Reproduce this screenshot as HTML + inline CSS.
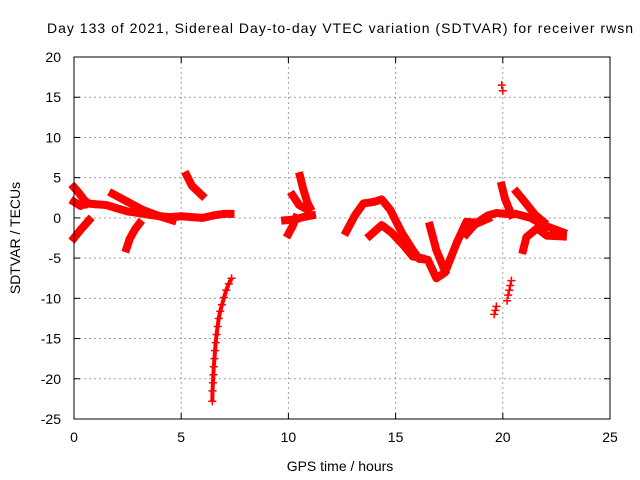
<!DOCTYPE html>
<html><head><meta charset="utf-8">
<style>
html,body{margin:0;padding:0;background:#fff;}
svg{display:block;font-family:"Liberation Sans",sans-serif;}
</style></head>
<body>
<svg id="chart" width="640" height="480" viewBox="0 0 640 480" xmlns="http://www.w3.org/2000/svg">
<rect x="0" y="0" width="640" height="480" fill="#fff"/>
<text x="47" y="33" font-size="14" fill="#000" textLength="586" lengthAdjust="spacing">Day 133 of 2021, Sidereal Day-to-day VTEC variation (SDTVAR) for receiver rwsn</text>
<g id="grid"></g>
<g id="ticks"></g>
<g id="marks"></g>
<rect x="74" y="57" width="536" height="362" fill="none" stroke="#000" stroke-width="1"/>
<text x="340" y="471" font-size="14" text-anchor="middle">GPS time / hours</text>
<text x="20" y="238" font-size="14" text-anchor="middle" transform="rotate(-90 20 238)">SDTVAR / TECUs</text>
</svg>
<script>
const xTicks = [0, 5, 10, 15, 20, 25];
const yTicks = [20, 15, 10, 5, 0, -5, -10, -15, -20, -25];
const trackA = [[0,3.8],[0.2,3.2],[0.4,2.5],[0.6,1.8]];
const trackA2 = [[0,2.0],[0.3,1.5],[0.6,1.8]];
const trackB = [[0,-2.5],[0.3,-1.5],[0.7,-0.3]];
const trackC = [[0.6,1.8],[1,1.7],[1.5,1.6],[2,1.2],[2.5,0.8],[3,0.6],[3.5,0.4],[4,0.2],[4.5,0.1],[5,0.2],[5.5,0.1],[6,0.0],[6.5,0.3],[7,0.5],[7.3,0.5]];
const trackD = [[1.8,3.0],[2.5,2.0],[3.2,1.0],[4,0.2],[4.6,-0.3]];
const trackE = [[2.45,-3.8],[2.6,-2.6],[2.85,-1.4],[3.05,-0.7]];
const trackF = [[5.25,5.3],[5.5,4.0],[5.97,2.8]];
const trackG = [[6.45,-22.8],[6.46,-21.5],[6.48,-20.5],[6.5,-19.5],[6.52,-18.5],[6.55,-17.5],[6.58,-16.5],[6.61,-15.5],[6.65,-14.5],[6.7,-13.5],[6.75,-12.5],[6.82,-11.6],[6.9,-10.8],[7.0,-9.9],[7.1,-9.0],[7.22,-8.2],[7.35,-7.5]];
const trackH = [[9.85,-0.3],[10.3,-0.2],[10.7,0.1],[11.1,0.3]];
const trackH2 = [[10.0,-2.0],[10.2,-1.0],[10.35,0.0]];
const trackH3 = [[10.54,5.2],[10.7,3.5],[10.9,1.8],[11.0,1.3]];
const trackH4 = [[10.2,2.8],[10.5,1.6],[10.9,1.0]];
const trackI = [[12.7,-1.7],[13.1,0.3],[13.5,1.8],[14,2.0],[14.35,2.3],[14.75,1.0],[15.3,-1.9],[15.8,-4.0],[16.1,-5.1],[16.5,-5.2],[16.9,-7.5],[17.3,-6.8],[17.85,-3.1],[18.3,-0.5],[18.8,-0.6],[19.3,0.3],[19.7,0.6],[20.2,0.5],[20.6,0.5],[21.3,0.0],[21.9,-0.9],[22.8,-1.8]];
const trackJ = [[13.8,-2.2],[14.35,-0.9],[14.8,-1.8],[15.4,-3.5],[15.8,-4.8],[16.2,-5.0]];
const trackK = [[16.6,-1.0],[16.9,-4.0],[17.3,-6.6]];
const trackK2 = [[18.3,-2.0],[18.7,-0.8],[19.3,-0.1]];
const trackL = [[19.95,4.0],[20.1,2.4],[20.4,0.4]];
const trackM = [[20.65,3.2],[20.9,2.4],[21.5,0.4],[21.9,-0.5]];
const trackN = [[20.95,-4.0],[21.1,-2.4],[21.6,-1.3],[22.05,-2.2],[22.8,-2.3]];
const trackO = [[19.6,-12.0],[19.65,-11.5],[19.7,-11.0]];
const trackP = [[20.2,-10.3],[20.25,-9.6],[20.3,-9.0],[20.35,-8.4],[20.4,-7.8]];
const trackQ = [[19.95,16.5],[20.0,15.8]];

const NS = "http://www.w3.org/2000/svg";
const X0 = 74, X1 = 610, Y0 = 419, Y1 = 57, XMIN = 0, XMAX = 25, YMIN = -25, YMAX = 20;
function xs(v){ return X0 + (v - XMIN) / (XMAX - XMIN) * (X1 - X0); }
function ys(v){ return Y0 - (v - YMIN) / (YMAX - YMIN) * (Y0 - Y1); }
function mk(tag, attrs, parent){ const e = document.createElementNS(NS, tag); for (const k in attrs) e.setAttribute(k, attrs[k]); parent.appendChild(e); return e; }

const grid = document.getElementById('grid');
const ticks = document.getElementById('ticks');
xTicks.forEach(t => {
  const x = xs(t);
  if (t > XMIN && t < XMAX) {
    const g = mk('line', {x1:x, y1:Y1, x2:x, y2:Y0, stroke:'#a0a0a0', 'stroke-dasharray':'2,3'}, grid);
    
    
  }
  mk('line', {x1:x, y1:Y0, x2:x, y2:Y0-6, stroke:'#000'}, ticks);
  mk('line', {x1:x, y1:Y1, x2:x, y2:Y1+6, stroke:'#000'}, ticks);
  const l = mk('text', {x:x, y:Y0+23, 'font-size':14, 'text-anchor':'middle'}, ticks);
  l.textContent = t;
  
  
});
yTicks.forEach(t => {
  const y = ys(t);
  if (t > YMIN && t < YMAX) {
    const g = mk('line', {x1:X0, y1:y, x2:X1, y2:y, stroke:'#a0a0a0', 'stroke-dasharray':'2,3'}, grid);
    
    
  }
  mk('line', {x1:X0, y1:y, x2:X0+6, y2:y, stroke:'#000'}, ticks);
  mk('line', {x1:X1, y1:y, x2:X1-6, y2:y, stroke:'#000'}, ticks);
  const l = mk('text', {x:X0-13, y:y+5, 'font-size':14, 'text-anchor':'end'}, ticks);
  l.textContent = t;
  
  
});

const marks = document.getElementById('marks');
const tracks = [trackA, trackA2, trackB, trackC, trackD, trackE, trackF, trackH, trackH2, trackH3, trackH4, trackI, trackJ, trackK, trackK2, trackL, trackM, trackN];
tracks.forEach(tr => {
  const p = mk('polyline', {points: tr.map(d => xs(d[0]) + ',' + ys(d[1])).join(' '), fill:'none', stroke:'#ff0000', 'stroke-width':8, 'stroke-linejoin':'round', 'stroke-linecap':'square'}, marks);
  
  
});
const thin = mk('polyline', {points: trackG.map(d => xs(d[0]) + ',' + ys(d[1])).join(' '), fill:'none', stroke:'#ff0000', 'stroke-width':4, 'stroke-linejoin':'round'}, marks);


const allPts = tracks.concat([trackG, trackO, trackP, trackQ]);
allPts.forEach(tr => tr.forEach(d => {
  const x = xs(d[0]), y = ys(d[1]);
  const c = mk('path', {d:`M${x-4},${y}H${x+4}M${x},${y-4}V${y+4}`, stroke:'#ff0000', 'stroke-width':1.5, fill:'none'}, marks);
  
  
}));
</script>
</body></html>
